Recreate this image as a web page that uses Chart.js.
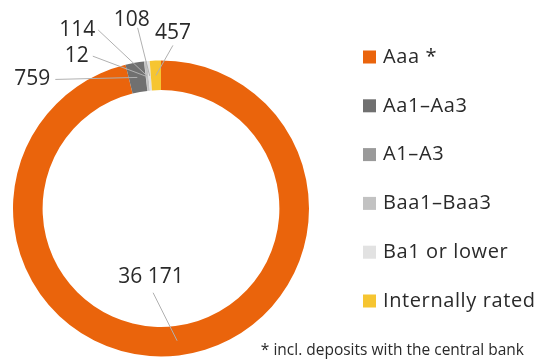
<!DOCTYPE html>
<html>
<head>
<meta charset="utf-8">
<script src="https://cdn.jsdelivr.net/npm/chart.js@4/dist/chart.umd.min.js"></script>
<style>
    html, body { margin: 0; padding: 0; background: #fff; }
    #wrap { width: 549px; height: 363px; position: relative; }
</style>
</head>
<body>
<div id="wrap"><canvas id="ratingChart" width="549" height="363"></canvas></div>
<script>
const categories = ['Aaa *', 'Aa1–Aa3', 'A1–A3', 'Baa1–Baa3', 'Ba1 or lower', 'Internally rated'];
const amounts = [36171, 759, 12, 114, 108, 457];
const colors = ['#ea640c', '#707070', '#9a9a9a', '#c2c2c2', '#e2e2e2', '#f6c531'];
const footnote = '* incl. deposits with the central bank';

// where each value label sits, relative to the middle of its slice
// [line dx, line dy, text dx, text dy, align]
const labelOffsets = [
    [-24, -48, -2, -16, 'center'],
    [-82, 2, -5, 0, 'right'],
    [-53, -20, -4, 0, 'right'],
    [-49, -46, -3, 0, 'right'],
    [-12, -48, -6, -8, 'center'],
    [17, -30, 0, -12, 'center']
];

const FONT = '"Open Sans", "DejaVu Sans", sans-serif';

function formatNumber(n) {
    return n.toString().replace(/\B(?=(\d{3})+(?!\d))/g, ' ');
}

const labelPlugin = {
    id: 'valueLabels',
    afterDraw(chart) {
        const ctx = chart.ctx;
        const arcs = chart.getDatasetMeta(0).data;
        ctx.save();
        arcs.forEach((arc, i) => {
            const p = arc.tooltipPosition();
            const [ldx, ldy, tdx, tdy, align] = labelOffsets[i];
            const ex = p.x + ldx, ey = p.y + ldy;
            ctx.strokeStyle = '#b0b0b0';
            ctx.lineWidth = 1;
            ctx.beginPath();
            ctx.moveTo(p.x, p.y);
            ctx.lineTo(ex, ey);
            ctx.stroke();
            ctx.fillStyle = '#2a2a2a';
            ctx.font = '21px ' + FONT;
            ctx.textAlign = align;
            ctx.textBaseline = 'middle';
            ctx.fillText(formatNumber(amounts[i]), ex + tdx, ey + tdy);
        });

        // legend on the right
        ctx.font = '20px ' + FONT;
        ctx.letterSpacing = '0.6px';
        ctx.textAlign = 'left';
        ctx.textBaseline = 'middle';
        categories.forEach((name, i) => {
            const y = 57 + i * 48.8;
            ctx.fillStyle = colors[i];
            ctx.fillRect(363, y - 6.5, 13, 13);
            ctx.fillStyle = '#2a2a2a';
            ctx.fillText(name, 383, y);
        });

        ctx.letterSpacing = '0px';
        ctx.font = '15.5px ' + FONT;
        ctx.textAlign = 'right';
        ctx.fillText(footnote, 524, 351);
        ctx.restore();
    }
};

new Chart(document.getElementById('ratingChart'), {
    type: 'doughnut',
    data: {
        labels: categories,
        datasets: [{
            data: amounts,
            backgroundColor: colors,
            borderWidth: 0
        }]
    },
    options: {
        responsive: false,
        animation: false,
        cutout: '80%',
        rotation: 0,
        layout: { padding: { left: 13, right: 240, top: 60, bottom: 6 } },
        plugins: {
            legend: { display: false },
            tooltip: { enabled: false }
        }
    },
    plugins: [labelPlugin]
});
</script>
</body>
</html>
